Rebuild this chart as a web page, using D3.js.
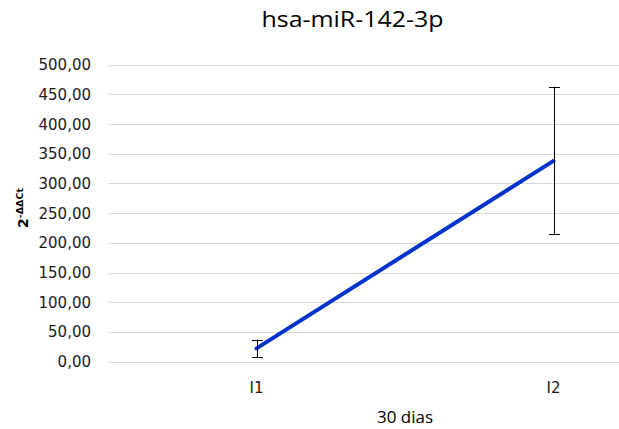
<!DOCTYPE html>
<html><head><meta charset="utf-8">
<script src="https://cdn.jsdelivr.net/npm/d3@7"></script>
<style>body{margin:0;background:#fff}svg{display:block}</style>
</head><body>
<svg id="c" width="619" height="429"></svg>
<script>
const categories = ["I1", "I2"];
const values = [22.5, 338];
const errLow = [8, 215];
const errHigh = [37, 463];
const yTicks = [0, 50, 100, 150, 200, 250, 300, 350, 400, 450, 500];
const title = "hsa-miR-142-3p";
const xTitle = "30 dias";

const svg = d3.select("#c");
const W = 619;
const x = d3.scaleBand().domain(categories).range([108, 702]).padding(0);
const y = d3.scaleLinear().domain([0, 500]).range([361.7, 64.6]);
const fmt = v => d3.format(".2f")(v).replace(".", ",");

// gridlines
svg.append("g").selectAll("line").data(yTicks).join("line")
  .attr("x1", 108).attr("x2", W)
  .attr("y1", d => Math.round(y(d)) + 0.5).attr("y2", d => Math.round(y(d)) + 0.5)
  .attr("stroke", "#d9d9d9").attr("stroke-width", 1);

// y tick labels
svg.append("g").selectAll("text").data(yTicks).join("text")
  .attr("x", 91).attr("y", d => y(d) + 5.5)
  .attr("text-anchor", "end")
  .attr("font-family", "DejaVu Sans").attr("font-size", 15).attr("fill", "#1a1a1a")
  .text(fmt);

// x labels
svg.append("g").selectAll("text").data(categories).join("text")
  .attr("x", d => x(d) + x.bandwidth() / 2).attr("y", 393)
  .attr("text-anchor", "middle")
  .attr("font-family", "DejaVu Sans").attr("font-size", 15).attr("fill", "#1a1a1a")
  .text(d => d);

// line
const pts = categories.map((c, i) => [x(c) + x.bandwidth() / 2, y(values[i])]);
svg.append("path").attr("d", d3.line()(pts))
  .attr("fill", "none").attr("stroke", "#0033cc").attr("stroke-width", 4).attr("stroke-linecap", "round");

// error bars
const eb = svg.append("g").attr("stroke", "#000").attr("stroke-width", 1);
categories.forEach((c, i) => {
  const cx = Math.round(x(c) + x.bandwidth() / 2) + 0.5;
  eb.append("line").attr("x1", cx).attr("x2", cx).attr("y1", y(errLow[i])).attr("y2", y(errHigh[i]));
  [errLow[i], errHigh[i]].forEach(v => {
    eb.append("line").attr("x1", cx - 5.5).attr("x2", cx + 5.5)
      .attr("y1", Math.round(y(v)) + 0.5).attr("y2", Math.round(y(v)) + 0.5);
  });
});

// title
svg.append("text").attr("x", 352.5).attr("y", 27).attr("text-anchor", "middle")
  .attr("font-family", "Open Sans").attr("font-size", 22).attr("fill", "#000")
  .attr("textLength", 182).attr("lengthAdjust", "spacingAndGlyphs")
  .text(title);

// x title
svg.append("text").attr("x", 405).attr("y", 423).attr("text-anchor", "middle")
  .attr("font-family", "Open Sans").attr("font-size", 16).attr("fill", "#000")
  .attr("textLength", 56).attr("lengthAdjust", "spacingAndGlyphs")
  .text(xTitle);

// y title
const yt = svg.append("text").attr("transform", "translate(28,208) rotate(-90)")
  .attr("text-anchor", "middle")
  .attr("font-family", "DejaVu Sans").attr("font-weight", "bold").attr("fill", "#000");
yt.append("tspan").attr("font-size", 14).text("2");
yt.append("tspan").attr("font-size", 9.5).attr("dy", -5).text("-ΔΔCt");
</script>
</body></html>
